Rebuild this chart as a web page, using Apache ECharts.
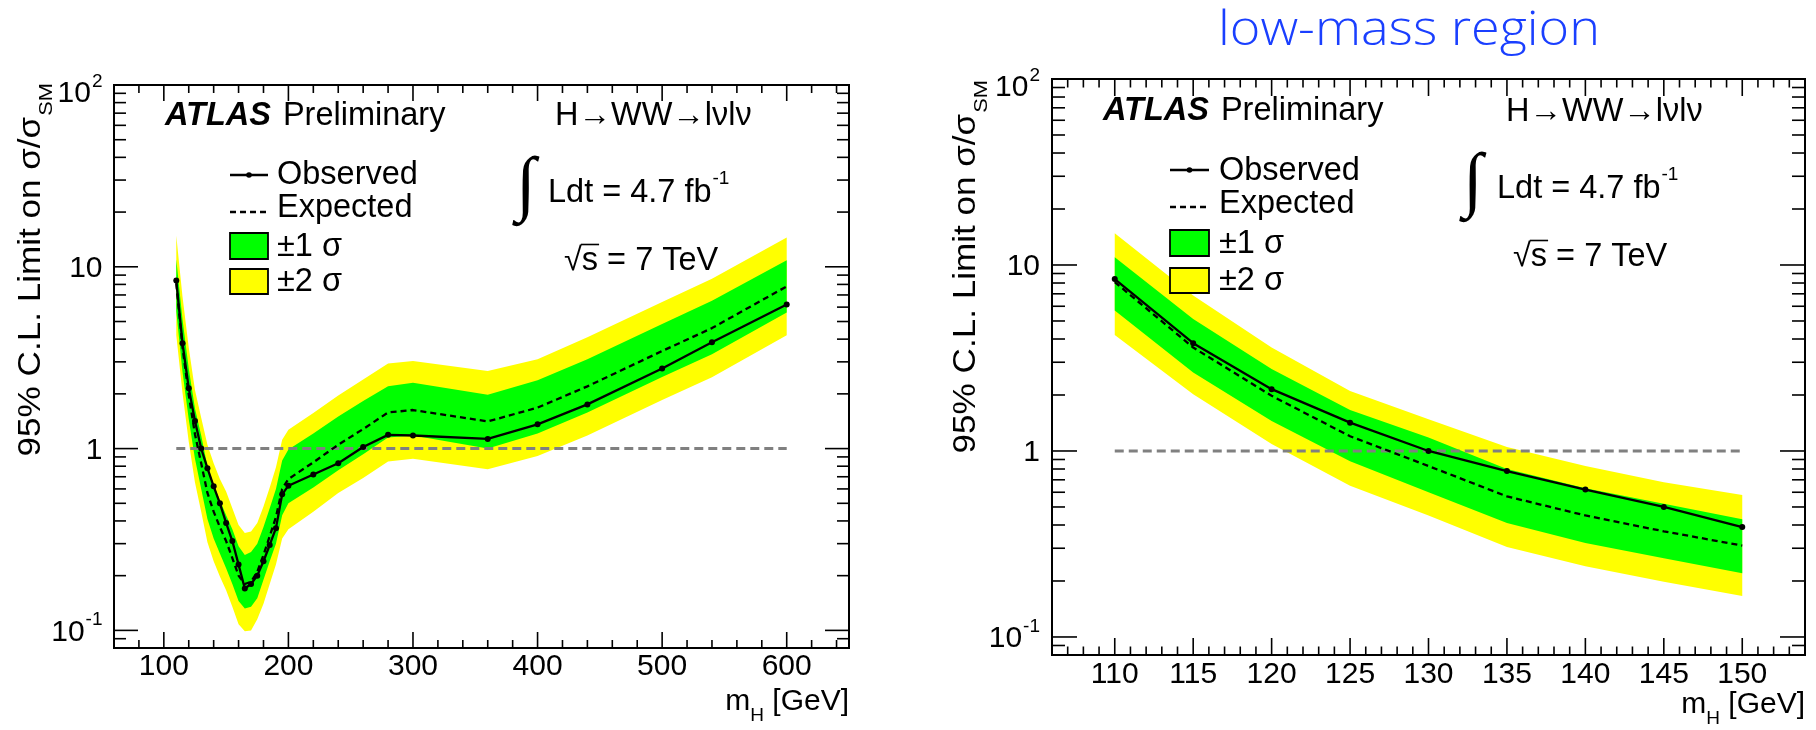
<!DOCTYPE html>
<html>
<head>
<meta charset="utf-8">
<title>H→WW→lνlν exclusion limits</title>
<script src="https://cdn.jsdelivr.net/npm/echarts@6.0.0/dist/echarts.min.js"></script>
<style>
  html, body { margin: 0; padding: 0; background: #fff; }
  #chart { width: 1816px; height: 730px; }
</style>
</head>
<body>
<div id="chart"></div>
<script>
// Higgs boson mass hypotheses [GeV]
const MASS = [110, 115, 120, 125, 130, 135, 140, 145, 150, 155, 160, 165, 170, 175, 180, 185, 190, 195, 200,
              220, 240, 260, 280, 300, 360, 400, 440, 500, 540, 600];
// 95% CL upper limit on sigma/sigma_SM
const OBSERVED = [8.4, 3.8, 2.15, 1.42, 1.0, 0.78, 0.62, 0.50, 0.39, 0.31, 0.23, 0.17, 0.18, 0.20, 0.24, 0.295, 0.365, 0.56, 0.625,
                  0.72, 0.83, 1.02, 1.19, 1.18, 1.13, 1.36, 1.75, 2.76, 3.85, 6.2];
const EXPECTED = [8.1, 3.6, 1.98, 1.2, 0.83, 0.57, 0.45, 0.37, 0.31, 0.25, 0.20, 0.18, 0.185, 0.21, 0.26, 0.33, 0.42, 0.60, 0.68,
                  0.84, 1.05, 1.28, 1.58, 1.63, 1.41, 1.68, 2.2, 3.44, 4.6, 7.8];
// expected-limit bands
const SIGMA1_LO = [5.7, 2.64, 1.45, 0.88, 0.60, 0.41, 0.32, 0.265, 0.22, 0.18, 0.145, 0.132, 0.135, 0.15, 0.19, 0.24, 0.30, 0.43, 0.50,
                   0.61, 0.76, 0.93, 1.15, 1.18, 1.0, 1.21, 1.58, 2.48, 3.3, 5.6];
const SIGMA1_HI = [11.0, 5.13, 2.76, 1.66, 1.18, 0.80, 0.63, 0.52, 0.43, 0.36, 0.29, 0.26, 0.27, 0.30, 0.37, 0.47, 0.60, 0.86, 0.99,
                   1.21, 1.5, 1.83, 2.2, 2.3, 1.98, 2.38, 3.1, 4.85, 6.5, 10.85];
const SIGMA2_LO = [4.2, 2.02, 1.09, 0.65, 0.45, 0.305, 0.24, 0.198, 0.166, 0.135, 0.108, 0.099, 0.10, 0.115, 0.14, 0.18, 0.23, 0.32, 0.36,
                   0.45, 0.57, 0.69, 0.85, 0.88, 0.77, 0.91, 1.18, 1.85, 2.47, 4.2];
const SIGMA2_HI = [14.8, 6.85, 3.6, 2.1, 1.48, 1.05, 0.83, 0.68, 0.58, 0.47, 0.38, 0.343, 0.35, 0.39, 0.48, 0.61, 0.79, 1.12, 1.27,
                   1.57, 1.96, 2.4, 2.94, 3.03, 2.67, 3.1, 4.1, 6.4, 8.6, 14.5];

// reference line at sigma/sigma_SM = 1
const SM_LINE_VALUE = 1;
const SM_LINE_FULL = [110, 600];
const SM_LINE_LOW = [110, 150];
const LOW_MASS_MAX = 150;

// axis ticks
const X_TICKS_FULL = [100, 200, 300, 400, 500, 600];
const X_LABELS_FULL = ['100', '200', '300', '400', '500', '600'];
const X_TICKS_LOW = [110, 115, 120, 125, 130, 135, 140, 145, 150];
const X_LABELS_LOW = ['110', '115', '120', '125', '130', '135', '140', '145', '150'];
const Y_TICKS = [0.1, 1, 10, 100];
const Y_LABELS = [{ base: '10', exp: '-1' }, { base: '1' }, { base: '10' }, { base: '10', exp: '2' }];

const GREEN = '#00ff00';
const YELLOW = '#ffff00';
const SANS = '"Liberation Sans", Arimo, Arial, Helvetica, sans-serif';

const measureCtx = document.createElement('canvas').getContext('2d');
function cssFont(fs, weight, style, family) {
  return (style || 'normal') + ' ' + (weight || 'normal') + ' ' + fs + 'px ' + (family || SANS);
}
function textWidth(str, fs, weight, style, family) {
  measureCtx.font = cssFont(fs, weight, style, family);
  return measureCtx.measureText(str).width;
}
// text placed by its alphabetic baseline
function textEl(x, baseline, str, fs, o) {
  o = o || {};
  const align = o.align || 'left';
  return {
    type: 'text', x: x, y: baseline - 0.3465 * fs, scaleX: o.scaleX || 1, silent: true, z: 100,
    style: {
      text: str, font: cssFont(fs, o.weight, o.style, o.family), fill: o.color || '#000',
      textAlign: align, align: align, textVerticalAlign: 'middle', verticalAlign: 'middle'
    }
  };
}
// vertical text reading bottom-to-top, ending at yEnd
function vTextEl(baselineX, yEnd, str, fs, stretch) {
  return {
    type: 'text', x: baselineX - 0.3465 * fs, y: yEnd, rotation: Math.PI / 2, scaleX: stretch, silent: true, z: 100,
    style: {
      text: str, font: cssFont(fs), fill: '#000',
      textAlign: 'right', align: 'right', textVerticalAlign: 'middle', verticalAlign: 'middle'
    }
  };
}

function range(from, to, step) {
  const out = [];
  for (let v = from; v <= to + 1e-9; v += step) out.push(+v.toFixed(6));
  return out;
}
function logMinor(min, max) {
  const out = [];
  [0.01, 0.1, 1, 10].forEach(function (d) {
    for (let k = 2; k <= 9; k++) {
      const v = +(k * d).toPrecision(6);
      if (v > min && v < max) out.push(v);
    }
  });
  return out;
}

const AXIS_FS = 30;
const SUP_FS = 19;
const TITLE_FS = 30.5;
const TITLE_STRETCH = 1.15;

const PANELS = [
  {
    grid: { left: 114, top: 85, width: 735, height: 563 },
    xMin: 60, xMax: 650, yMin: 0.08, yMax: 100,
    n: MASS.length, smLine: SM_LINE_FULL,
    xTicks: X_TICKS_FULL, xLabels: X_LABELS_FULL, xMinor: range(60, 650, 20),
    xMajorLen: 16, xMinorLen: 8, yMajorLen: 24, yMinorLen: 12,
    xLabelDy: 18.5, yLabelGap: 11.5
  },
  {
    grid: { left: 1052, top: 79, width: 753, height: 576 },
    xMin: 106, xMax: 154, yMin: 0.08, yMax: 100,
    n: MASS.filter(function (m) { return m <= LOW_MASS_MAX; }).length, smLine: SM_LINE_LOW,
    xTicks: X_TICKS_LOW, xLabels: X_LABELS_LOW, xMinor: range(106, 154, 1),
    xMajorLen: 17, xMinorLen: 8.5, yMajorLen: 25, yMinorLen: 13,
    xLabelDy: 19.5, yLabelGap: 12
  }
];

function bandSeries(gi, n, lo, hi, color) {
  return {
    type: 'custom', xAxisIndex: gi, yAxisIndex: gi, silent: true, z: 1,
    data: [[MASS[0], EXPECTED[0]]],
    renderItem: function (params, api) {
      const pts = [];
      for (let i = 0; i < n; i++) pts.push(api.coord([MASS[i], hi[i]]));
      for (let i = n - 1; i >= 0; i--) pts.push(api.coord([MASS[i], lo[i]]));
      return { type: 'polygon', shape: { points: pts }, style: { fill: color, stroke: null } };
    }
  };
}

function frameSeries(gi, p) {
  const yMinor = logMinor(p.yMin, p.yMax);
  return {
    type: 'custom', xAxisIndex: gi, yAxisIndex: gi, silent: true, clip: false, z: 20,
    data: [[p.xTicks[0], 1]],
    renderItem: function (params, api) {
      const r = params.coordSys;
      const L = r.x, R = r.x + r.width, T = r.y, B = r.y + r.height;
      const kids = [];
      const seg = function (x1, y1, x2, y2) {
        kids.push({ type: 'line', shape: { x1: x1, y1: y1, x2: x2, y2: y2 }, style: { stroke: '#000', lineWidth: 1.6 } });
      };
      const px = function (v) { return api.coord([v, 1])[0]; };
      const py = function (v) { return api.coord([p.xMin, v])[1]; };
      const inX = function (x) { return x > L + 1 && x < R - 1; };
      const inY = function (y) { return y > T + 1 && y < B - 1; };
      p.xMinor.forEach(function (v) {
        if (p.xTicks.indexOf(v) >= 0) return;
        const x = px(v);
        if (inX(x)) { seg(x, B, x, B - p.xMinorLen); seg(x, T, x, T + p.xMinorLen); }
      });
      p.xTicks.forEach(function (v) {
        const x = px(v);
        if (inX(x)) { seg(x, B, x, B - p.xMajorLen); seg(x, T, x, T + p.xMajorLen); }
      });
      yMinor.forEach(function (v) {
        const y = py(v);
        if (inY(y)) { seg(L, y, L + p.yMinorLen, y); seg(R, y, R - p.yMinorLen, y); }
      });
      Y_TICKS.forEach(function (v) {
        const y = py(v);
        if (inY(y)) { seg(L, y, L + p.yMajorLen, y); seg(R, y, R - p.yMajorLen, y); }
      });
      // tick labels
      p.xTicks.forEach(function (v, i) {
        kids.push(textEl(px(v), B + p.xLabelDy + 0.3465 * AXIS_FS, p.xLabels[i], AXIS_FS, { align: 'center' }));
      });
      Y_TICKS.forEach(function (v, i) {
        const lab = Y_LABELS[i];
        const y = py(v);
        const xr = L - p.yLabelGap;
        if (lab.exp) {
          const dy = (v >= p.yMax) ? 9 : 2;
          const wExp = textWidth(lab.exp, SUP_FS);
          kids.push(textEl(xr - wExp - 1, y + dy + 0.3465 * AXIS_FS, lab.base, AXIS_FS, { align: 'right' }));
          kids.push(textEl(xr, y + dy - 12.5 + 0.3465 * SUP_FS, lab.exp, SUP_FS, { align: 'right' }));
        } else {
          kids.push(textEl(xr, y + 2 + 0.3465 * AXIS_FS, lab.base, AXIS_FS, { align: 'right' }));
        }
      });
      return { type: 'group', children: kids };
    }
  };
}

function panelSeries(gi, p) {
  const n = p.n;
  const obs = [], exp = [];
  for (let i = 0; i < n; i++) { obs.push([MASS[i], OBSERVED[i]]); exp.push([MASS[i], EXPECTED[i]]); }
  return [
    bandSeries(gi, n, SIGMA2_LO, SIGMA2_HI, YELLOW),
    bandSeries(gi, n, SIGMA1_LO, SIGMA1_HI, GREEN),
    {
      type: 'line', xAxisIndex: gi, yAxisIndex: gi, z: 3, silent: true, showSymbol: false,
      data: p.smLine.map(function (m) { return [m, SM_LINE_VALUE]; }),
      lineStyle: { color: '#808080', width: 3, type: [9, 5] }
    },
    {
      type: 'line', name: 'Expected', xAxisIndex: gi, yAxisIndex: gi, z: 4, silent: true, showSymbol: false,
      data: exp, lineStyle: { color: '#000', width: 2.3, type: [6, 4] }
    },
    {
      type: 'line', name: 'Observed', xAxisIndex: gi, yAxisIndex: gi, z: 5, silent: true,
      symbol: 'circle', symbolSize: 6, showSymbol: true,
      data: obs, lineStyle: { color: '#000', width: 2.3 }, itemStyle: { color: '#000' }
    },
    frameSeries(gi, p)
  ];
}

const TEXT_FS = 32.5;
const SERIF = '"Liberation Serif", "DejaVu Serif", serif';

// legend, labels and annotations of one panel
function panelGraphics(a) {
  const els = [];
  const wAtlas = textWidth('ATLAS', TEXT_FS, 'bold', 'italic');
  els.push(textEl(a.atlasX, a.atlasBase, 'ATLAS', TEXT_FS, { weight: 'bold', style: 'italic' }));
  els.push(textEl(a.atlasX + wAtlas + 12, a.atlasBase, 'Preliminary', TEXT_FS));
  els.push(textEl(a.procX, a.procBase, 'H\u2192WW\u2192l\u03bdl\u03bd', TEXT_FS));
  // integrated luminosity
  els.push(textEl(a.intX, a.intBase, '\u222b', 72, { family: SERIF }));
  els.push(textEl(a.lumiX, a.lumiBase, 'Ldt = 4.7 fb', TEXT_FS));
  const wLumi = textWidth('Ldt = 4.7 fb', TEXT_FS);
  els.push(textEl(a.lumiX + wLumi + 1, a.lumiBase - 19, '-1', SUP_FS));
  // centre-of-mass energy
  els.push(textEl(a.sqrtX, a.sqrtBase, '\u221as = 7 TeV', TEXT_FS));
  const wRoot = textWidth('\u221a', TEXT_FS), wS = textWidth('s', TEXT_FS);
  els.push({ type: 'line', silent: true, z: 100,
    shape: { x1: a.sqrtX + wRoot - 1, y1: a.sqrtBase - 27.5, x2: a.sqrtX + wRoot + wS + 1, y2: a.sqrtBase - 27.5 },
    style: { stroke: '#000', lineWidth: 1.6 } });
  // legend
  const g = a.legend;
  els.push({ type: 'line', silent: true, z: 100, shape: { x1: g.x0, y1: g.obsY, x2: g.x1, y2: g.obsY }, style: { stroke: '#000', lineWidth: 2.4 } });
  els.push({ type: 'circle', silent: true, z: 101, shape: { cx: (g.x0 + g.x1) / 2, cy: g.obsY, r: 2.8 }, style: { fill: '#000' } });
  els.push({ type: 'line', silent: true, z: 100, shape: { x1: g.x0, y1: g.expY, x2: g.x1, y2: g.expY }, style: { stroke: '#000', lineWidth: 2.4, lineDash: [6, 4] } });
  els.push({ type: 'rect', silent: true, z: 100, shape: { x: g.x0, y: g.b1Y, width: g.x1 - g.x0, height: g.b1H }, style: { fill: GREEN, stroke: '#000', lineWidth: 1.8 } });
  els.push({ type: 'rect', silent: true, z: 100, shape: { x: g.x0, y: g.b2Y, width: g.x1 - g.x0, height: g.b2H }, style: { fill: YELLOW, stroke: '#000', lineWidth: 1.8 } });
  els.push(textEl(g.tx, g.base[0], 'Observed', TEXT_FS));
  els.push(textEl(g.tx, g.base[1], 'Expected', TEXT_FS));
  els.push(textEl(g.tx, g.base[2], '\u00b11 \u03c3', TEXT_FS));
  els.push(textEl(g.tx, g.base[3], '\u00b12 \u03c3', TEXT_FS));
  // y-axis title
  const wSub = textWidth('SM', SUP_FS) * TITLE_STRETCH;
  els.push(vTextEl(a.yTitleX, a.yTitleEnd + wSub + 1, '95% C.L. Limit on \u03c3/\u03c3', TITLE_FS, TITLE_STRETCH));
  els.push(vTextEl(a.yTitleX + 11, a.yTitleEnd, 'SM', SUP_FS, TITLE_STRETCH));
  // x-axis title
  const wGev = textWidth(' [GeV]', AXIS_FS), wH = textWidth('H', SUP_FS);
  els.push(textEl(a.xTitleRight, a.xTitleBase, ' [GeV]', AXIS_FS, { align: 'right' }));
  els.push(textEl(a.xTitleRight - wGev, a.xTitleBase + 10, 'H', SUP_FS, { align: 'right' }));
  els.push(textEl(a.xTitleRight - wGev - wH, a.xTitleBase, 'm', AXIS_FS, { align: 'right' }));
  return els;
}

const ANNOT = [
  {
    atlasX: 165, atlasBase: 127, procX: 555, procBase: 127,
    intX: 516, intBase: 213, lumiX: 548, lumiBase: 204, sqrtX: 564, sqrtBase: 272,
    legend: { x0: 230, x1: 268, obsY: 175, expY: 212, b1Y: 233, b1H: 26, b2Y: 269, b2H: 25, tx: 277, base: [186, 219, 258, 293] },
    yTitleX: 42, yTitleEnd: 83, xTitleRight: 849, xTitleBase: 712
  },
  {
    atlasX: 1103, atlasBase: 122, procX: 1506, procBase: 123,
    intX: 1463, intBase: 209, lumiX: 1497, lumiBase: 200, sqrtX: 1513, sqrtBase: 268,
    legend: { x0: 1170, x1: 1209, obsY: 170, expY: 207, b1Y: 230, b1H: 26, b2Y: 268, b2H: 25, tx: 1219, base: [182, 215, 255, 292] },
    yTitleX: 977, yTitleEnd: 80, xTitleRight: 1805, xTitleBase: 715
  }
];

const graphics = [];
ANNOT.forEach(function (a) { panelGraphics(a).forEach(function (e) { graphics.push(e); }); });

// section heading above the low-mass panel
const HEADING = 'low-mass region';
const HEADING_FAMILY = '"Open Sans", "DejaVu Sans", sans-serif';
const headingFit = 382 / textWidth(HEADING, 48, 300, 'normal', HEADING_FAMILY);
graphics.push(textEl(1218, 48, HEADING, 48, { family: HEADING_FAMILY, weight: 300, color: '#1a3fff', scaleX: headingFit }));

const hiddenAxis = {
  axisLine: { show: false }, axisTick: { show: false }, axisLabel: { show: false }, splitLine: { show: false }
};

const option = {
  animation: false,
  backgroundColor: '#fff',
  grid: PANELS.map(function (p) {
    return Object.assign({ show: true, borderColor: '#000', borderWidth: 2, backgroundColor: 'transparent', containLabel: false, outerBoundsMode: 'none' }, p.grid);
  }),
  xAxis: PANELS.map(function (p, i) {
    return Object.assign({ type: 'value', gridIndex: i, min: p.xMin, max: p.xMax }, hiddenAxis);
  }),
  yAxis: PANELS.map(function (p, i) {
    return Object.assign({ type: 'log', logBase: 10, gridIndex: i, min: p.yMin, max: p.yMax }, hiddenAxis);
  }),
  series: [].concat(panelSeries(0, PANELS[0]), panelSeries(1, PANELS[1])),
  graphic: { elements: graphics }
};

const chart = echarts.init(document.getElementById('chart'), null, { renderer: 'canvas' });
chart.setOption(option);
</script>
</body>
</html>
